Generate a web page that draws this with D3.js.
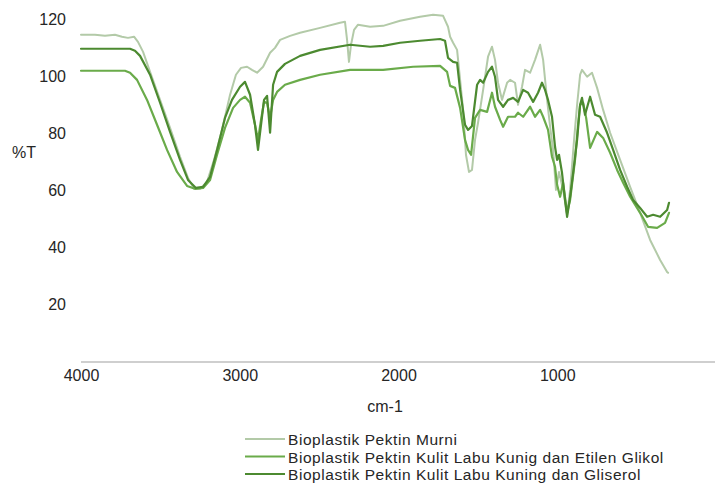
<!DOCTYPE html>
<html lang="id">
<head>
  <meta charset="UTF-8" />
  <title>FTIR Bioplastik Pektin</title>
  <script src="https://cdn.jsdelivr.net/npm/d3@7"></script>
  <style>
    body {
      margin: 0;
      background: #fff;
      font-family: "Liberation Sans", Arial, sans-serif;
    }
    svg text {
      fill: #262626;
    }
    .line {
      fill: none;
      stroke-linejoin: round;
      stroke-linecap: round;
    }
  </style>
</head>
<body>
  <div id="chart"></div>

  <script>
    // [bilangan gelombang cm-1, %T]
    const murni = [
      [4000, 114.5], [3912, 114.5], [3849, 114.1], [3786, 114.5], [3742, 113.8], [3704, 113.4],
      [3666, 113.8], [3641, 112.0], [3609, 108.5], [3565, 101.5], [3502, 91.7], [3439, 81.9],
      [3376, 71.8], [3326, 64.4], [3288, 60.6], [3250, 60.6], [3206, 63.0], [3162, 70.7],
      [3112, 81.2], [3061, 93.5], [3024, 100.5], [2992, 102.9], [2954, 103.3], [2923, 102.2],
      [2891, 101.2], [2853, 103.3], [2809, 108.2], [2778, 109.9], [2746, 112.7], [2683, 114.1],
      [2620, 115.2], [2494, 116.9], [2368, 118.7], [2337, 119.0], [2324, 112.7], [2312, 105.0],
      [2299, 111.0], [2280, 116.2], [2255, 118.0], [2179, 117.3], [2097, 117.6], [1990, 119.4],
      [1864, 120.8], [1782, 121.5], [1719, 121.1], [1688, 117.3], [1675, 113.8], [1656, 111.7],
      [1631, 109.2], [1612, 98.7], [1593, 88.2], [1575, 72.5], [1556, 66.5], [1537, 67.2],
      [1518, 77.7], [1499, 83.7], [1467, 95.2], [1436, 106.8], [1411, 110.3], [1392, 105.7],
      [1373, 97.7], [1348, 91.7], [1316, 97.7], [1297, 98.7], [1266, 97.7], [1247, 90.0],
      [1222, 96.3], [1203, 102.2], [1171, 101.2], [1140, 105.7], [1108, 111.0], [1089, 105.7],
      [1064, 91.7], [1045, 82.3], [1026, 74.2], [1008, 60.2], [989, 66.5], [963, 60.2],
      [938, 51.5], [919, 60.2], [894, 77.7], [875, 90.0], [856, 100.5], [844, 102.2],
      [812, 99.8], [781, 101.2], [749, 95.9], [711, 88.2], [667, 80.2], [604, 70.7],
      [541, 61.3], [478, 52.2], [415, 42.7], [352, 35.7], [308, 31.5], [302, 31.2]
    ];

    const etilen = [
      [4000, 101.9], [3723, 101.9], [3691, 101.2], [3647, 98.7], [3584, 91.7], [3521, 83.0],
      [3458, 74.2], [3395, 66.5], [3332, 61.6], [3282, 60.6], [3231, 60.9], [3187, 63.7],
      [3143, 72.5], [3093, 81.9], [3042, 88.9], [2998, 91.7], [2967, 92.8], [2935, 90.7],
      [2904, 83.0], [2885, 77.7], [2866, 84.7], [2847, 91.0], [2828, 90.7], [2809, 85.4],
      [2790, 91.7], [2765, 94.5], [2715, 97.0], [2620, 98.7], [2494, 100.5], [2305, 102.2],
      [2097, 102.2], [1908, 103.3], [1738, 103.6], [1694, 101.5], [1675, 96.6], [1644, 95.9],
      [1612, 88.9], [1581, 77.7], [1562, 74.2], [1543, 72.5], [1518, 85.4], [1486, 88.2],
      [1442, 87.5], [1411, 94.2], [1392, 89.3], [1360, 84.7], [1341, 82.3], [1310, 85.8],
      [1266, 85.8], [1247, 87.2], [1215, 85.8], [1171, 89.3], [1140, 85.8], [1108, 88.2],
      [1089, 85.8], [1058, 81.2], [1033, 71.8], [1014, 68.3], [1001, 62.0], [982, 57.8],
      [963, 62.7], [938, 52.2], [919, 56.7], [888, 70.7], [869, 83.0], [856, 90.0],
      [837, 90.7], [818, 85.4], [793, 74.9], [749, 80.5], [711, 78.4], [667, 73.2],
      [623, 67.2], [585, 62.7], [541, 57.8], [478, 52.2], [428, 47.3], [371, 46.9],
      [321, 48.7], [296, 52.2]
    ];

    const gliserol = [
      [4000, 109.6], [3691, 109.6], [3660, 108.9], [3628, 107.1], [3565, 100.5], [3502, 90.7],
      [3439, 80.5], [3376, 70.7], [3326, 63.7], [3276, 60.9], [3231, 61.3], [3187, 64.8],
      [3143, 74.2], [3093, 85.4], [3049, 91.7], [2998, 96.3], [2967, 98.0], [2935, 93.5],
      [2904, 83.0], [2885, 74.2], [2866, 83.0], [2847, 91.7], [2828, 93.1], [2809, 80.2],
      [2790, 97.0], [2765, 101.5], [2715, 104.3], [2620, 107.1], [2494, 109.2], [2305, 111.0],
      [2179, 110.3], [2097, 110.6], [1990, 111.7], [1864, 112.4], [1738, 113.0], [1707, 112.4],
      [1688, 106.4], [1656, 105.0], [1631, 104.7], [1612, 95.2], [1581, 83.0], [1562, 81.2],
      [1537, 82.6], [1505, 97.0], [1486, 98.7], [1467, 97.7], [1436, 101.5], [1411, 103.3],
      [1392, 99.8], [1373, 91.7], [1341, 89.3], [1310, 91.7], [1278, 92.4], [1247, 91.0],
      [1215, 95.2], [1184, 94.2], [1152, 91.0], [1121, 94.2], [1096, 97.7], [1077, 95.2],
      [1058, 91.7], [1033, 85.8], [1014, 75.3], [1001, 70.7], [989, 72.5], [970, 66.2],
      [951, 56.7], [938, 50.8], [919, 57.8], [900, 66.2], [875, 77.7], [856, 90.0],
      [844, 92.4], [825, 86.5], [793, 92.8], [762, 86.5], [730, 85.8], [686, 80.2],
      [648, 74.2], [604, 67.2], [560, 61.3], [522, 56.7], [478, 53.9], [434, 50.8],
      [396, 51.5], [352, 50.8], [308, 53.2], [296, 55.7]
    ];

    const seriesNames = [
      "Bioplastik Pektin Murni",
      "Bioplastik Pektin Kulit Labu Kunig dan Etilen Glikol",
      "Bioplastik Pektin Kulit Labu Kuning dan Gliserol"
    ];
    const seriesColors = ["#b3caa8", "#6aab4a", "#4c8a30"];
    const xTicks = [4000, 3000, 2000, 1000];
    const yTicks = [20, 40, 60, 80, 100, 120];

    const width = 715;
    const height = 483;

    const svg = d3.select("#chart")
      .append("svg")
      .attr("width", width)
      .attr("height", height);

    const x = d3.scaleLinear().domain([4000, 0]).range([81, 716]);
    const y = d3.scaleLinear().domain([0, 120]).range([362, 19]);

    // x axis
    const xAxis = d3.axisBottom(x)
      .tickValues(xTicks)
      .tickSize(0)
      .tickPadding(8)
      .tickFormat(d3.format("d"));

    const gx = svg.append("g")
      .attr("transform", `translate(0, ${y(0)})`)
      .call(xAxis);
    gx.select(".domain").attr("stroke", "#bfbfbf").attr("stroke-width", 1.3)
      .attr("d", `M${x(4000)},0H715`);
    gx.selectAll("text")
      .attr("font-family", "Liberation Sans, Arial, sans-serif")
      .attr("font-size", 16)
      .attr("fill", "#262626");

    // y axis (labels only)
    const yAxis = d3.axisLeft(y)
      .tickValues(yTicks)
      .tickSize(0)
      .tickPadding(0);

    const gy = svg.append("g")
      .attr("transform", "translate(66, 0)")
      .call(yAxis);
    gy.select(".domain").remove();
    gy.selectAll("text")
      .attr("font-family", "Liberation Sans, Arial, sans-serif")
      .attr("font-size", 16)
      .attr("fill", "#262626");

    // axis titles
    svg.append("text")
      .attr("x", 12)
      .attr("y", 158)
      .attr("font-size", 16)
      .text("%T");

    svg.append("text")
      .attr("x", 385)
      .attr("y", 412)
      .attr("text-anchor", "middle")
      .attr("font-size", 16)
      .text("cm-1");

    // lines
    const line = d3.line()
      .x(d => x(d[0]))
      .y(d => y(d[1]));

    const allSeries = [murni, etilen, gliserol];
    const widths = [2, 2.2, 2.2];

    svg.selectAll(".line")
      .data(allSeries)
      .enter()
      .append("path")
      .attr("class", "line")
      .attr("d", line)
      .attr("stroke", (d, i) => seriesColors[i])
      .attr("stroke-width", (d, i) => widths[i]);

    // legend
    const legend = svg.append("g")
      .attr("transform", "translate(245, 439)");

    seriesNames.forEach((name, i) => {
      legend.append("line")
        .attr("x1", 0)
        .attr("x2", 40)
        .attr("y1", i * 17.5)
        .attr("y2", i * 17.5)
        .attr("stroke", seriesColors[i])
        .attr("stroke-width", 2.2);

      legend.append("text")
        .attr("x", 43)
        .attr("y", i * 17.5 + 6)
        .attr("font-size", 15.5)
        .attr("letter-spacing", 0.55)
        .text(name);
    });
  </script>
</body>
</html>
